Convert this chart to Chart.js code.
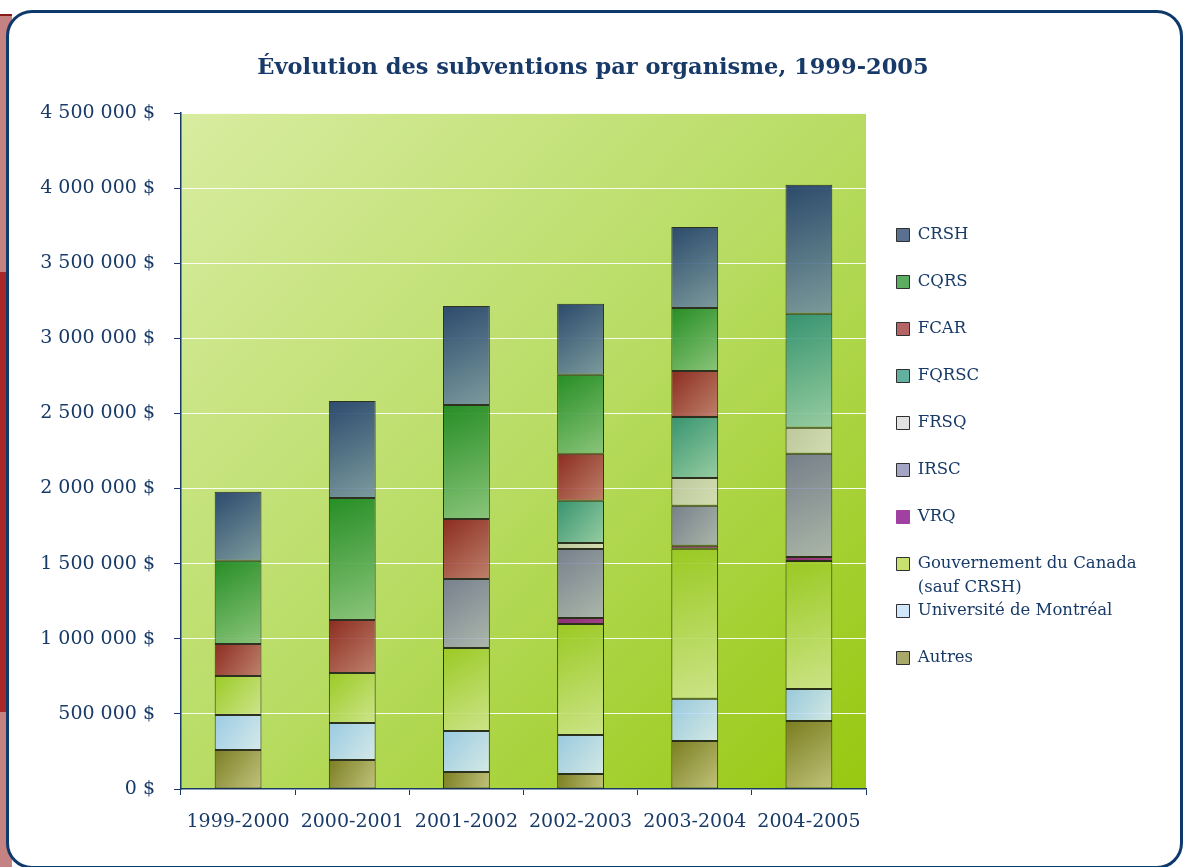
<!DOCTYPE html>
<html lang="fr">
<head>
<meta charset="utf-8">
<title>Évolution des subventions par organisme, 1999-2005</title>
<script src="https://cdn.jsdelivr.net/npm/chart.js@4.4.1/dist/chart.umd.min.js"></script>
<style>
  body { margin: 0; background: #fff; }
  #page { position: relative; width: 1186px; height: 867px; overflow: hidden; }
  #stripe1 { position: absolute; left: 0; top: 14px; width: 12px; height: 260px; background: #c48282; border-top: 2px solid #8a1a1a; }
  #stripe2 { position: absolute; left: 0; top: 272px; width: 12px; height: 440px; background: #a8282a; }
  #stripe3 { position: absolute; left: 0; top: 712px; width: 12px; height: 160px; background: #c48282; }
  #frame { position: absolute; left: 6px; top: 10px; width: 1171px; height: 853px; border: 3px solid #0d3a6b; border-radius: 26px; background: #fff; }
  canvas { position: absolute; left: 0; top: 0; }
</style>
</head>
<body>
<div id="page">
  <div id="stripe1"></div><div id="stripe2"></div><div id="stripe3"></div>
  <div id="frame"></div>
  <canvas id="chart" width="1186" height="867"></canvas>
</div>
<script>
// Data (dollars)
const categories = ['1999-2000', '2000-2001', '2001-2002', '2002-2003', '2003-2004', '2004-2005'];
const autres = [260000, 193000, 113000, 100000, 320000, 453000];
const udem   = [233000, 246000, 273000, 260000, 280000, 213000];
const gouv   = [260000, 333000, 553000, 739000, 999000, 852000];
const vrq    = [null, null, null, 40000, 20000, 27000];
const irsc   = [null, null, 459000, 459000, 266000, 686000];
const frsq   = [null, null, null, 40000, 186000, 173000];
const fqrsc  = [null, null, null, 280000, 406000, 759000];
const fcar   = [213000, 353000, 399000, 313000, 306000, null];
const cqrs   = [553000, 812000, 759000, 526000, 419000, null];
const crsh   = [459000, 646000, 659000, 473000, 539000, 859000];
const yTicks = [0, 500000, 1000000, 1500000, 2000000, 2500000, 3000000, 3500000, 4000000, 4500000];

const navy = '#183a68';
const serif = 'DejaVu Serif';
const GOUV = 'Gouvernement du Canada';

// gradient stops (dark top-left, light bottom-right) + legend swatch
const series = [
  { label: 'Autres', data: autres, c: ['rgba(118,118,30,0.92)', 'rgba(196,194,130,0.92)'], sw: '#a8a868' },
  { label: 'Université de Montréal', data: udem, c: ['rgba(150,200,245,0.88)', 'rgba(218,236,252,0.88)'], sw: '#cfe6fb' },
  { label: GOUV, data: gouv, c: ['rgba(152,200,30,0.9)', 'rgba(208,230,145,0.9)'], sw: '#c8e070' },
  { label: 'VRQ', data: vrq, c: ['rgba(140,40,120,0.95)', 'rgba(160,60,136,0.95)'], sw: '#a040a0' },
  { label: 'IRSC', data: irsc, c: ['rgba(108,112,150,0.85)', 'rgba(172,178,188,0.85)'], sw: '#a4a4c4' },
  { label: 'FRSQ', data: frsq, c: ['rgba(190,198,165,0.9)', 'rgba(214,222,190,0.9)'], sw: '#e2e2e2' },
  { label: 'FQRSC', data: fqrsc, c: ['rgba(40,140,115,0.9)', 'rgba(150,204,170,0.9)'], sw: '#62b0a0' },
  { label: 'FCAR', data: fcar, c: ['rgba(135,25,25,0.9)', 'rgba(192,120,110,0.9)'], sw: '#b46464' },
  { label: 'CQRS', data: cqrs, c: ['rgba(25,135,30,0.92)', 'rgba(135,195,125,0.92)'], sw: '#5cac62' },
  { label: 'CRSH', data: crsh, c: ['rgba(28,58,108,0.9)', 'rgba(118,148,162,0.9)'], sw: '#5a7090' }
];

function segmentGradient(ctx, s) {
  if (ctx.type !== 'data') return s.c[1];
  const chart = ctx.chart, xs = chart.scales.x, ys = chart.scales.y;
  const i = ctx.dataIndex, di = ctx.datasetIndex;
  const v = series[di].data[i];
  if (!xs || !ys || v == null) return s.c[1];
  let base = 0;
  for (let k = 0; k < di; k++) base += series[k].data[i] || 0;
  const xc = xs.getPixelForValue(i), half = 24;
  const g = chart.ctx.createLinearGradient(xc - half, ys.getPixelForValue(base + v), xc + half, ys.getPixelForValue(base));
  g.addColorStop(0, s.c[0]);
  g.addColorStop(1, s.c[1]);
  return g;
}

function money(v) {
  return String(v).replace(/\B(?=(\d{3})+(?!\d))/g, ' ') + ' $';
}

// plot area gradient background
const plotBg = {
  id: 'plotBg',
  beforeDraw(chart) {
    const { ctx, chartArea: a } = chart;
    const g = ctx.createLinearGradient(a.left, a.top, a.right, a.bottom);
    g.addColorStop(0, '#d8eca0');
    g.addColorStop(0.5, '#b8dc64');
    g.addColorStop(1, '#98c810');
    ctx.save();
    ctx.fillStyle = g;
    ctx.fillRect(a.left, a.top, a.right - a.left, a.bottom - a.top);
    ctx.restore();
  }
};

// second line of the long legend label
const legendWrap = {
  id: 'legendWrap',
  afterDraw(chart) {
    const lg = chart.legend;
    if (!lg || !lg.legendItems) return;
    const idx = lg.legendItems.findIndex(it => it.text.startsWith(GOUV));
    if (idx < 0) return;
    const hb = lg.legendHitBoxes[idx];
    const ctx = chart.ctx;
    ctx.save();
    ctx.fillStyle = navy;
    ctx.font = '16.5px "' + serif + '"';
    ctx.textBaseline = 'middle';
    ctx.fillText('(sauf CRSH)', hb.left + 13 + 16.5 / 2, hb.top + hb.height / 2 + 24);
    ctx.restore();
  }
};

new Chart(document.getElementById('chart'), {
  type: 'bar',
  data: {
    labels: categories,
    datasets: series.map(s => ({
      label: s.label,
      data: s.data,
      backgroundColor: ctx => segmentGradient(ctx, s),
      borderColor: 'rgba(20,20,20,0.85)',
      borderWidth: 1,
      borderSkipped: false,
      categoryPercentage: 1,
      barPercentage: 0.41
    }))
  },
  options: {
    responsive: false,
    animation: false,
    layout: { padding: { top: 0, right: 0, bottom: 0, left: 0 } },
    plugins: {
      title: {
        display: true,
        text: 'Évolution des subventions par organisme, 1999-2005',
        color: navy,
        font: { family: serif, size: 22.5, weight: 'bold' },
        padding: { top: 55, bottom: 31 }
      },
      legend: {
        position: 'right',
        reverse: true,
        maxWidth: 320,
        title: { display: true, text: ' ', font: { size: 10 }, padding: { top: 7, bottom: 7 } },
        labels: {
          color: navy,
          font: { family: serif, size: 16.5 },
          boxWidth: 13,
          boxHeight: 13,
          padding: 30.5,
          generateLabels(chart) {
            return series.map((s, i) => ({
              // trailing no-break spaces reserve the room the wrapped label takes
              text: s.label === GOUV ? s.label + '\u00a0'.repeat(20) : s.label,
              fillStyle: s.sw,
              strokeStyle: s.label === 'VRQ' ? s.sw : '#303030',
              lineWidth: 1,
              fontColor: navy,
              datasetIndex: i,
              hidden: false
            }));
          }
        }
      },
      tooltip: { enabled: false }
    },
    scales: {
      x: {
        stacked: true,
        afterFit(scale) { scale.height = 78; },
        border: { color: navy, width: 1.5 },
        grid: { display: true, drawOnChartArea: false, tickColor: navy, tickLength: 6, offset: true },
        ticks: { color: navy, font: { family: serif, size: 19 }, padding: 16 }
      },
      y: {
        stacked: true,
        min: 0,
        max: yTicks[yTicks.length - 1],
        afterFit(scale) { scale.width = 181; },
        afterBuildTicks(scale) { scale.ticks = yTicks.map(v => ({ value: v })); },
        border: { color: navy, width: 1.5 },
        grid: { color: 'rgba(255,255,255,0.9)', lineWidth: 1, tickColor: navy, tickLength: 7 },
        ticks: { color: navy, font: { family: serif, size: 19 }, padding: 19, callback: v => money(v) }
      }
    }
  },
  plugins: [plotBg, legendWrap]
});
</script>
</body>
</html>
